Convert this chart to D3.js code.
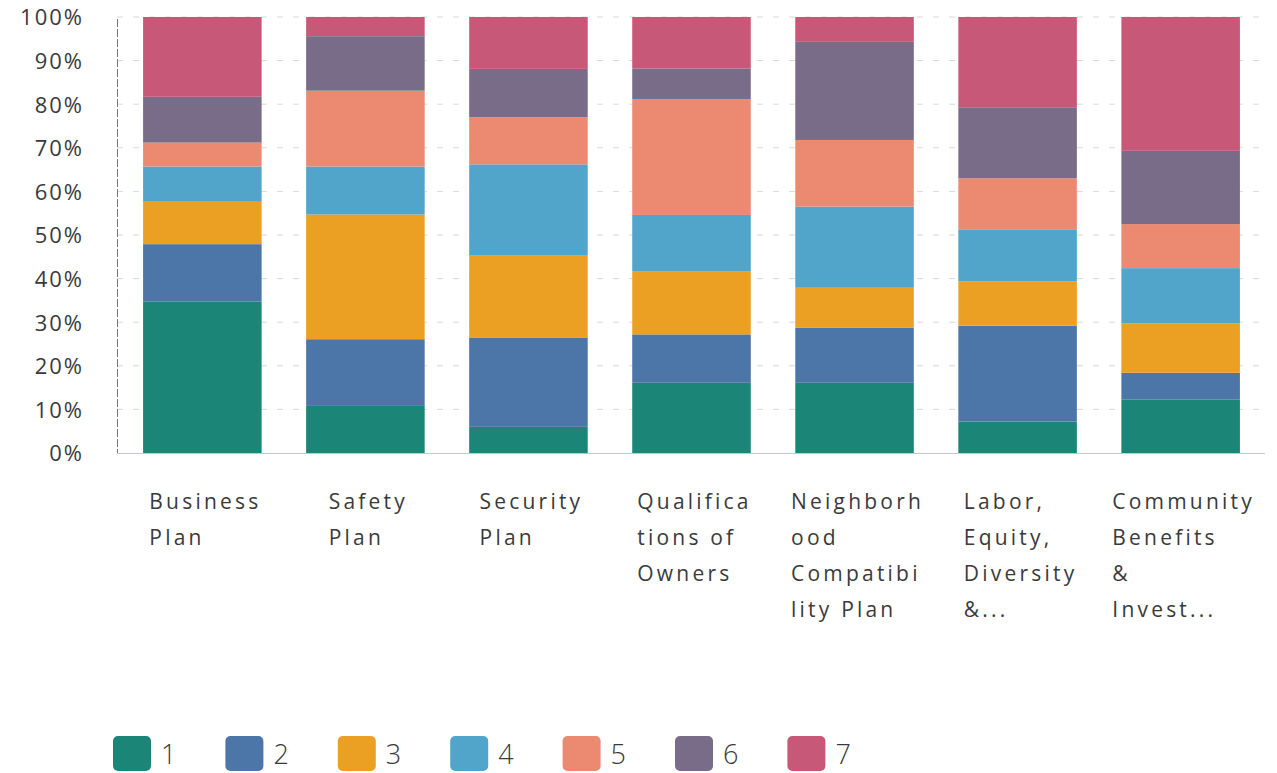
<!DOCTYPE html>
<html>
<head>
<meta charset="utf-8">
<script src="https://cdn.jsdelivr.net/npm/d3@7"></script>
<style>
  html, body { margin: 0; padding: 0; background: #fff; }
  svg { display: block; }
  text { font-family: "Open Sans", "DejaVu Sans", sans-serif; fill: #3a3a3a; }
</style>
</head>
<body>
<svg id="chart" width="1277" height="773"></svg>
<script>
// ---- data ----
const categories = ["Business Plan", "Safety Plan", "Security Plan", "Qualifications of Owners",
  "Neighborhood Compatibility Plan", "Labor, Equity, Diversity &...", "Community Benefits & Invest..."];
const categoryLines = [
  ["Business", "Plan"],
  ["Safety", "Plan"],
  ["Security", "Plan"],
  ["Qualifica", "tions of", "Owners"],
  ["Neighborh", "ood", "Compatibi", "lity Plan"],
  ["Labor,", "Equity,", "Diversity", "&..."],
  ["Community", "Benefits", "&", "Invest..."]
];
const seriesNames = ["1", "2", "3", "4", "5", "6", "7"];
const r1 = [34.7, 10.8, 6.0, 16.1, 16.1, 7.2, 12.3];
const r2 = [13.2, 15.3, 20.5, 11.1, 12.6, 22.0, 6.1];
const r3 = [9.9, 28.6, 18.9, 14.4, 9.2, 10.2, 11.3];
const r4 = [7.9, 11.0, 20.8, 13.0, 18.6, 11.9, 12.7];
const r5 = [5.5, 17.4, 10.8, 26.6, 15.3, 11.7, 10.1];
const r6 = [10.5, 12.5, 11.1, 7.0, 22.5, 16.3, 16.8];
const r7 = [18.3, 4.4, 11.9, 11.8, 5.7, 20.7, 30.7];
const yTicks = [0, 10, 20, 30, 40, 50, 60, 70, 80, 90, 100];
const colors = ["#1b8577", "#4c76a7", "#eca023", "#51a5cb", "#eb8a71", "#786c88", "#c75877"];

const seriesValues = [r1, r2, r3, r4, r5, r6, r7];
const rows = categories.map((c, i) => {
  const o = { cat: c };
  seriesNames.forEach((s, j) => o[s] = seriesValues[j][i]);
  return o;
});

// ---- layout ----
const svg = d3.select("#chart");
const axisX = 117, yTop = 17, yBottom = 453;

const x = d3.scaleBand().domain(categories).range([117, 1266]).paddingInner(0.273).paddingOuter(0.16);
const y = d3.scaleLinear().domain([0, 100]).range([yBottom, yTop]);
const color = d3.scaleOrdinal().domain(seriesNames).range(colors);

// gridlines
svg.append("g").selectAll("line").data(yTicks.filter(d => d > 0)).join("line")
  .attr("x1", axisX).attr("x2", 1265)
  .attr("y1", d => y(d)).attr("y2", d => y(d))
  .attr("stroke", "#d8d8d8").attr("stroke-width", 1).attr("stroke-dasharray", "6,10");

// bars
const stack = d3.stack().keys(seriesNames)(rows);
svg.append("g").selectAll("g").data(stack).join("g")
  .attr("fill", d => color(d.key))
  .selectAll("rect").data(d => d).join("rect")
  .attr("x", d => x(d.data.cat))
  .attr("width", x.bandwidth())
  .attr("y", d => y(d[1]))
  .attr("height", d => y(d[0]) - y(d[1]));

// baseline
svg.append("line").attr("x1", axisX).attr("x2", 1265).attr("y1", yBottom + 0.5).attr("y2", yBottom + 0.5)
  .attr("stroke", "#c8c8c8").attr("stroke-width", 1);
// y axis line
svg.append("line").attr("x1", axisX + 0.5).attr("x2", axisX + 0.5).attr("y1", y(100) + 2).attr("y2", yBottom)
  .attr("stroke", "#777").attr("stroke-width", 1).attr("stroke-dasharray", "8,2");

// y tick labels via axis
const yAxis = d3.axisLeft(y).tickValues(yTicks).tickFormat(d => d + "%").tickSize(0).tickPadding(0);
const gy = svg.append("g").attr("transform", "translate(84,0)").call(yAxis);
gy.select(".domain").remove();
gy.selectAll("text")
  .attr("font-family", "'Open Sans', sans-serif")
  .attr("font-size", 22).attr("letter-spacing", 2)
  .attr("fill", "#3a3a3a").attr("dy", "0.36em").attr("dx", 0);

// x labels: block of left-aligned lines, centred under each bar
const xl = svg.append("g");
categories.forEach((c, i) => {
  const cx = x(c) + x.bandwidth() / 2;
  const t = xl.append("text")
    .attr("y", 509)
    .attr("font-size", 21).attr("letter-spacing", 3.2);
  const spans = categoryLines[i].map((ln, k) =>
    t.append("tspan").attr("y", 509 + k * 36).text(ln));
  const maxW = d3.max(spans, s => s.node().getComputedTextLength());
  const left = cx - maxW / 2 + 3;
  spans.forEach(s => s.attr("x", left));
});

// legend
const leg = svg.append("g");
seriesNames.forEach((s, i) => {
  const lx = 113 + i * 112.4;
  leg.append("rect").attr("x", lx).attr("y", 736).attr("width", 38).attr("height", 35)
    .attr("rx", 5).attr("fill", color(s));
  leg.append("text").attr("x", lx + 48).attr("y", 764)
    .attr("font-size", 27).attr("font-weight", 300).attr("fill", "#555").text(s);
});
</script>
</body>
</html>
